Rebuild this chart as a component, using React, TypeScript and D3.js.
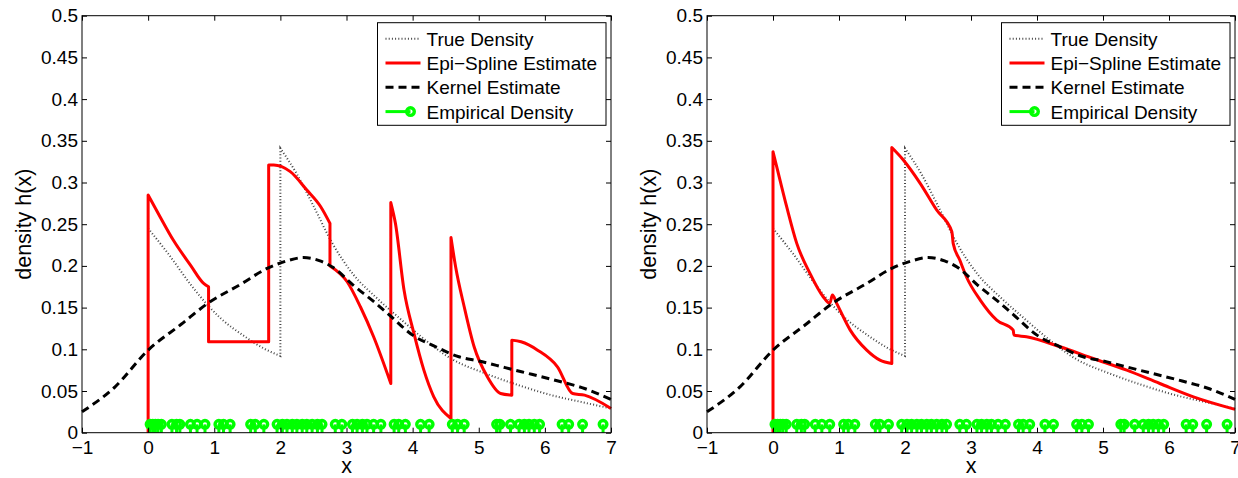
import React, { useRef, useEffect } from 'react';
import * as d3 from 'd3';

// axis ticks
const xTicks = [-1, 0, 1, 2, 3, 4, 5, 6, 7];
const xTickLabels = ['\u22121', '0', '1', '2', '3', '4', '5', '6', '7'];
const yTicks = [0, 0.05, 0.1, 0.15, 0.2, 0.25, 0.3, 0.35, 0.4, 0.45, 0.5];
const yTickLabels = ['0', '0.05', '0.1', '0.15', '0.2', '0.25', '0.3', '0.35', '0.4', '0.45', '0.5'];

const legendLabels = ['True Density', 'Epi\u2212Spline Estimate', 'Kernel Estimate', 'Empirical Density'];

// true density (same in both panels)
const trueX = [0, 0.3, 0.65, 0.9, 1.1, 1.45, 1.75, 2.0, 2.0, 2.25, 2.5, 2.78, 3.1, 3.45, 3.85, 4.1, 4.6, 5.1, 5.6, 6.1, 6.6, 7.0];
const trueY = [0.245, 0.215, 0.177, 0.153, 0.137, 0.116, 0.101, 0.092, 0.341, 0.31, 0.272, 0.228, 0.19, 0.162, 0.134, 0.117, 0.088, 0.071, 0.057, 0.045, 0.036, 0.029];

// kernel estimate (same in both panels)
const kernelX = [-1, -0.5, 0, 0.5, 0.9, 1.4, 1.8, 2.1, 2.35, 2.6, 2.8, 3.1, 3.4, 3.65, 4.0, 4.35, 4.7, 5.0, 5.4, 5.8, 6.2, 6.6, 7.0];
const kernelY = [0.025, 0.055, 0.099, 0.13, 0.155, 0.178, 0.197, 0.206, 0.21, 0.206, 0.198, 0.177, 0.158, 0.141, 0.117, 0.103, 0.091, 0.086, 0.078, 0.07, 0.062, 0.053, 0.04];

// epi-spline estimate, left panel
const epiLeftX = [0, 0, 0.18, 0.38, 0.64, 0.84, 0.914, 0.914, 1.823, 1.823, 1.9, 2.15, 2.4, 2.61, 2.75, 2.75, 3.01, 3.21, 3.41, 3.67, 3.67, 3.74, 3.87, 4.02, 4.17, 4.32, 4.58, 4.58, 4.65, 4.78, 4.93, 5.13, 5.33, 5.5, 5.5, 5.64, 5.89, 6.19, 6.42, 6.6, 7.0];
const epiLeftY = [0, 0.285, 0.259, 0.231, 0.201, 0.179, 0.175, 0.109, 0.109, 0.321, 0.321, 0.313, 0.291, 0.271, 0.251, 0.2, 0.181, 0.151, 0.115, 0.059, 0.276, 0.251, 0.171, 0.119, 0.075, 0.043, 0.017, 0.234, 0.199, 0.151, 0.103, 0.067, 0.047, 0.045, 0.111, 0.109, 0.099, 0.079, 0.047, 0.045, 0.029];

// epi-spline estimate, right panel
const epiRightX = [0, 0, 0.056, 0.207, 0.36, 0.56, 0.76, 0.86, 0.9, 0.965, 1.17, 1.42, 1.62, 1.8, 1.8, 1.975, 2.23, 2.48, 2.71, 2.73, 2.83, 2.93, 3.14, 3.39, 3.64, 3.65, 3.84, 4.35, 4.85, 5.36, 5.86, 6.37, 7.0];
const epiRightY = [0, 0.337, 0.319, 0.271, 0.227, 0.191, 0.163, 0.155, 0.165, 0.155, 0.123, 0.099, 0.087, 0.083, 0.342, 0.327, 0.299, 0.267, 0.241, 0.227, 0.207, 0.187, 0.159, 0.135, 0.123, 0.117, 0.115, 0.103, 0.089, 0.075, 0.059, 0.043, 0.028];

// sample points (empirical density stems)
const sampleX = [0.03, 0.07, 0.11, 0.15, 0.2, 0.36, 0.43, 0.48, 0.64, 0.74, 0.86, 1.07, 1.14, 1.24, 1.55, 1.62, 1.75, 1.95, 2.03, 2.1, 2.18, 2.25, 2.33, 2.4, 2.48, 2.56, 2.63, 2.83, 2.93, 3.09, 3.16, 3.24, 3.31, 3.41, 3.52, 3.72, 3.79, 3.89, 4.12, 4.25, 4.6, 4.68, 4.78, 5.27, 5.32, 5.48, 5.61, 5.69, 5.76, 5.84, 5.92, 6.26, 6.36, 6.57, 6.88];
const sampleH = 0.01;

const FONT = '"Liberation Sans", Arial, Helvetica, sans-serif';
const W = 1238;
const H = 478;
const TOP = 15.7;
const BOTTOM = 432.7;

// smooth each continuous piece, keep the jumps as straight vertical steps
const smoothPath = (xs, ys, x, y) => {
  const pieces = [];
  let cur = [];
  xs.forEach((v, i) => {
    if (cur.length && v === cur[cur.length - 1][0]) {
      pieces.push(cur);
      cur = [];
    }
    cur.push([v, ys[i]]);
  });
  pieces.push(cur);
  const line = d3
    .line()
    .x((d) => x(d[0]))
    .y((d) => y(d[1]))
    .curve(d3.curveMonotoneX);
  return pieces
    .map((p, i) => {
      const d = p.length > 1 ? line(p) : `M${x(p[0][0])},${y(p[0][1])}`;
      return i === 0 ? d : d.replace(/^M/, 'L');
    })
    .join('');
};

const drawPanel = (svg, left, right, epiX, epiY) => {
  const x = d3.scaleLinear().domain([-1, 7]).range([left, right]);
  const y = d3.scaleLinear().domain([0, 0.5]).range([BOTTOM, TOP]);
  const g = svg.append('g');

  // true density
  g.append('path')
    .attr('d', smoothPath(trueX, trueY, x, y))
    .attr('fill', 'none')
    .attr('stroke', '#444')
    .attr('stroke-width', 2)
    .attr('stroke-dasharray', '1 2.2');

  // epi-spline
  g.append('path')
    .attr('d', smoothPath(epiX, epiY, x, y))
    .attr('fill', 'none')
    .attr('stroke', '#ff0000')
    .attr('stroke-width', 3)
    .attr('stroke-linejoin', 'round');

  // kernel
  g.append('path')
    .attr('d', smoothPath(kernelX, kernelY, x, y))
    .attr('fill', 'none')
    .attr('stroke', '#000')
    .attr('stroke-width', 3)
    .attr('stroke-dasharray', '8 5');

  // empirical stems
  g.selectAll('.stem')
    .data(sampleX)
    .join('line')
    .attr('x1', (d) => x(d))
    .attr('x2', (d) => x(d))
    .attr('y1', y(0))
    .attr('y2', y(sampleH))
    .attr('stroke', '#00ff00')
    .attr('stroke-width', 3);
  g.selectAll('.mark')
    .data(sampleX)
    .join('circle')
    .attr('cx', (d) => x(d))
    .attr('cy', y(sampleH))
    .attr('r', 3.8)
    .attr('fill', 'none')
    .attr('stroke', '#00ff00')
    .attr('stroke-width', 3.4);

  // box
  g.append('rect')
    .attr('x', left)
    .attr('y', TOP)
    .attr('width', right - left)
    .attr('height', BOTTOM - TOP)
    .attr('fill', 'none')
    .attr('stroke', '#000')
    .attr('stroke-width', 1);

  // axes, ticks pointing inward
  const styleAxis = (a) => {
    a.select('.domain').remove();
    a.selectAll('line').attr('stroke', '#000');
    a.selectAll('text').attr('fill', '#000');
    a.attr('font-family', FONT).attr('font-size', 19);
  };
  const xAxis = d3
    .axisBottom(x)
    .tickValues(xTicks)
    .tickFormat((d, i) => xTickLabels[i])
    .tickSizeInner(-5)
    .tickSizeOuter(0)
    .tickPadding(8);
  g.append('g').attr('transform', `translate(0, ${BOTTOM})`).call(xAxis).call(styleAxis);
  const xTop = d3.axisTop(x).tickValues(xTicks).tickFormat(() => '').tickSizeInner(-5).tickSizeOuter(0);
  g.append('g').attr('transform', `translate(0, ${TOP})`).call(xTop).call(styleAxis);

  const yAxis = d3
    .axisLeft(y)
    .tickValues(yTicks)
    .tickFormat((d, i) => yTickLabels[i])
    .tickSizeInner(-5)
    .tickSizeOuter(0)
    .tickPadding(4);
  g.append('g').attr('transform', `translate(${left}, 0)`).call(yAxis).call(styleAxis);
  const yRight = d3.axisRight(y).tickValues(yTicks).tickFormat(() => '').tickSizeInner(-5).tickSizeOuter(0);
  g.append('g').attr('transform', `translate(${right}, 0)`).call(yRight).call(styleAxis);

  // axis labels
  g.append('text')
    .text('x')
    .attr('x', (left + right) / 2)
    .attr('y', 473)
    .attr('text-anchor', 'middle')
    .attr('font-family', FONT)
    .attr('font-size', 21.5);
  g.append('text')
    .text('density h(x)')
    .attr('transform', `translate(${left - 51}, ${(TOP + BOTTOM) / 2}) rotate(-90)`)
    .attr('text-anchor', 'middle')
    .attr('font-family', FONT)
    .attr('font-size', 21.5);

  // legend
  const bx = right - 233.5;
  const by = TOP + 7;
  const lg = g.append('g');
  lg.append('rect')
    .attr('x', bx)
    .attr('y', by)
    .attr('width', 228.5)
    .attr('height', 102.6)
    .attr('fill', '#fff')
    .attr('stroke', '#000')
    .attr('stroke-width', 1);
  legendLabels.forEach((label, i) => {
    const base = by + 23 + i * 24.3;
    const cy = base - 7;
    const l = lg
      .append('line')
      .attr('x1', bx + 8)
      .attr('x2', bx + 43)
      .attr('y1', cy)
      .attr('y2', cy);
    if (i === 0) {
      l.attr('stroke', '#444').attr('stroke-width', 2).attr('stroke-dasharray', '1 2.2');
    } else if (i === 1) {
      l.attr('stroke', '#ff0000').attr('stroke-width', 3);
    } else if (i === 2) {
      l.attr('stroke', '#000').attr('stroke-width', 3).attr('stroke-dasharray', '8 5');
    } else {
      l.attr('x2', bx + 33).attr('stroke', '#00ff00').attr('stroke-width', 3);
      lg.append('circle')
        .attr('cx', bx + 33)
        .attr('cy', cy)
        .attr('r', 3.8)
        .attr('fill', 'none')
        .attr('stroke', '#00ff00')
        .attr('stroke-width', 3.4);
    }
    lg.append('text')
      .text(label)
      .attr('x', bx + 49)
      .attr('y', base)
      .attr('font-family', FONT)
      .attr('font-size', 19)
      .attr('fill', '#000');
  });
};

const App = () => {
  const svgRef = useRef(null);

  useEffect(() => {
    const svg = d3.select(svgRef.current);
    svg.selectAll('*').remove();
    drawPanel(svg, 82, 611, epiLeftX, epiLeftY);
    drawPanel(svg, 707, 1235, epiRightX, epiRightY);
  }, []);

  return (
    <svg
      ref={svgRef}
      width={W}
      height={H}
      style={{ position: 'absolute', left: 0, top: 0, background: '#fff' }}
    ></svg>
  );
};

export default App;
